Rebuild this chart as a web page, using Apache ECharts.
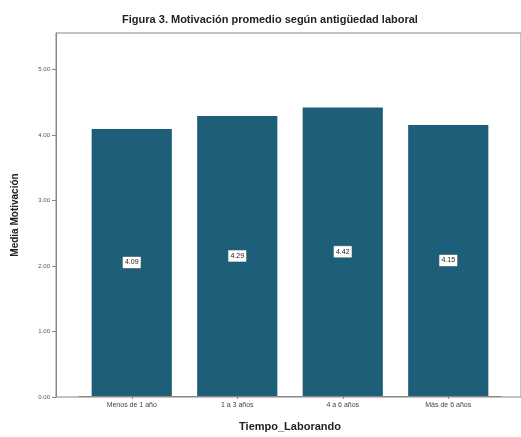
<!DOCTYPE html>
<html>
<head>
<meta charset="utf-8">
<script src="https://cdn.jsdelivr.net/npm/echarts@6/dist/echarts.min.js"></script>
<style>
  html, body { margin: 0; padding: 0; background: #fff; }
  #main { width: 521px; height: 437px; }
</style>
</head>
<body>
<div id="main"></div>
<script>
var categories = ["Menos de 1 año", "1 a 3 años", "4 a 6 años", "Más de 6 años"];
var medias = [4.09, 4.29, 4.42, 4.15];
var yMax = 5.56;

var myChart = echarts.init(document.getElementById("main"));

var font = "Liberation Sans, Arial, sans-serif";

myChart.setOption({
  backgroundColor: "#fff",
  animation: false,
  title: {
    text: "Figura 3. Motivación promedio según antigüedad laboral",
    left: 265,
    textAlign: "center",
    top: 9,
    textStyle: { fontFamily: font, fontSize: 11, fontWeight: "bold", color: "#222" }
  },
  grid: [
    // frame + y axis
    { left: 56, top: 33, right: -2, bottom: 40, show: true, borderColor: "#888", borderWidth: 1 },
    // bars
    { left: 79, top: 33, right: 20, bottom: 40 }
  ],
  xAxis: [
    {
      gridIndex: 0, type: "value", min: 0, max: 1, show: false
    },
    {
      gridIndex: 1,
      type: "category",
      data: categories,
      name: "Tiempo_Laborando",
      nameLocation: "middle",
      nameGap: 25,
      nameTextStyle: { fontFamily: font, fontSize: 11, fontWeight: "bold", color: "#222" },
      axisLine: { show: true, lineStyle: { color: "#888", width: 1 } },
      axisTick: { show: true, alignWithLabel: true, length: 3, lineStyle: { color: "#888" } },
      axisLabel: { fontFamily: font, fontSize: 7, color: "#444", margin: 6 }
    }
  ],
  yAxis: [
    {
      gridIndex: 0,
      type: "value",
      min: 0,
      max: yMax,
      interval: 1,
      name: "Media Motivación",
      nameLocation: "middle",
      nameGap: 36,
      nameTextStyle: { fontFamily: font, fontSize: 10, fontWeight: "bold", color: "#222" },
      axisLine: { show: true, lineStyle: { color: "#888" } },
      axisTick: { show: true, length: 4, lineStyle: { color: "#888" } },
      splitLine: { show: false },
      axisLabel: {
        fontFamily: font, fontSize: 6, color: "#555", margin: 6, showMaxLabel: false,
        formatter: function (v) { return v.toFixed(2); }
      }
    },
    {
      gridIndex: 1, type: "value", min: 0, max: yMax, show: false
    }
  ],
  series: [
    {
      type: "bar",
      xAxisIndex: 1,
      yAxisIndex: 1,
      data: medias,
      barCategoryGap: "24%",
      itemStyle: { color: "#1d5e78" },
      label: {
        show: true,
        position: "inside",
        formatter: function (p) { return p.value.toFixed(2); },
        fontFamily: font,
        fontSize: 7,
        color: "#222",
        backgroundColor: "#fff",
        borderColor: "#999",
        borderWidth: 0.5,
        padding: [2, 2]
      }
    }
  ]
});
</script>
</body>
</html>
